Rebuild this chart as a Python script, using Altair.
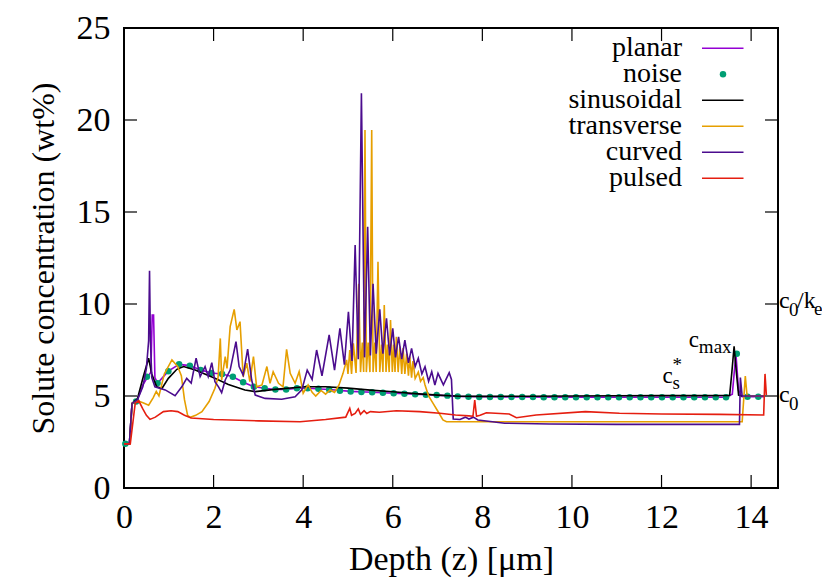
import altair as alt
import pandas as pd

FONT = "Liberation Serif"
W, H = 654, 460

x_ticks = [0, 2, 4, 6, 8, 10, 12, 14]
y_ticks = [0, 5, 10, 15, 20, 25]

names = ["planar", "noise", "sinusoidal", "transverse", "curved", "pulsed"]
colors = ["#9400D3", "#009E73", "#000000", "#E69F00", "#4B0C8E", "#E51E10"]

planar = [(0, 2.4), (0.12, 2.4), (0.18, 4.6), (0.3, 4.8), (0.42, 5.6), (0.52, 6.0), (0.6, 6.3),
          (0.63, 9.4), (0.66, 9.4), (0.69, 6.0), (0.75, 5.7), (0.99, 6.35), (1.23, 6.72), (1.47, 6.65),
          (1.71, 6.42), (1.95, 6.25), (2.19, 6.2), (2.43, 6.05), (2.66, 5.75), (2.90, 5.5), (3.14, 5.42),
          (3.38, 5.35), (3.62, 5.35), (3.86, 5.42), (4.10, 5.42), (4.58, 5.35), (5.06, 5.25), (5.54, 5.2),
          (6.02, 5.15), (6.50, 5.1), (6.98, 5.05), (7.45, 4.98), (8.5, 4.95), (10.0, 4.94), (12.0, 4.93),
          (13.44, 4.93), (13.58, 5.1), (13.66, 7.3), (13.72, 5.3), (13.8, 4.96), (14.3, 4.96)]

noise = [(0.03, 2.4), (0.27, 4.7), (0.51, 6.05), (0.75, 5.7), (0.99, 6.35), (1.23, 6.72), (1.47, 6.65),
         (1.71, 6.42), (1.95, 6.25), (2.19, 6.2), (2.43, 6.05), (2.66, 5.75), (2.90, 5.5), (3.14, 5.42),
         (3.38, 5.35), (3.62, 5.35), (3.86, 5.42), (4.10, 5.42), (4.34, 5.4), (4.58, 5.35), (4.82, 5.28),
         (5.06, 5.25), (5.30, 5.22), (5.54, 5.2), (5.78, 5.18), (6.02, 5.15), (6.26, 5.12), (6.50, 5.1),
         (6.74, 5.07), (6.98, 5.05), (7.22, 5.02), (7.45, 4.98), (7.69, 4.96), (7.93, 4.95), (8.17, 4.95),
         (8.41, 4.94), (8.65, 4.94), (8.89, 4.94), (9.13, 4.94), (9.37, 4.93), (9.61, 4.93), (9.85, 4.93),
         (10.09, 4.93), (10.33, 4.93), (10.57, 4.93), (10.81, 4.93), (11.05, 4.93), (11.29, 4.93),
         (11.53, 4.93), (11.77, 4.93), (12.01, 4.93), (12.25, 4.93), (12.49, 4.93), (12.73, 4.93),
         (12.97, 4.93), (13.21, 4.93), (13.44, 4.93), (13.68, 7.3), (13.92, 4.96), (14.16, 4.96)]

sinusoidal = [(0, 2.4), (0.12, 2.4), (0.18, 4.6), (0.3, 4.85), (0.43, 6.05), (0.55, 7.05), (0.62, 6.2),
              (0.73, 5.5), (0.85, 5.42), (0.99, 5.96), (1.18, 6.45), (1.33, 6.6), (1.59, 6.41), (2.03, 5.96),
              (2.33, 5.63), (2.7, 5.33), (2.93, 5.24), (3.37, 5.36), (4.04, 5.5), (4.5, 5.5), (5.0, 5.43),
              (5.5, 5.32), (6.0, 5.23), (6.5, 5.13), (7.0, 5.05), (7.5, 4.99), (8.0, 4.98), (9.0, 4.99),
              (10.0, 5.0), (11.0, 5.01), (12.0, 5.02), (13.0, 5.02), (13.52, 5.03), (13.57, 6.3), (13.62, 7.7),
              (13.67, 6.3), (13.72, 5.05), (13.8, 5.0)]

transverse = [(0, 2.4), (0.13, 2.4), (0.18, 4.6), (0.3, 4.75), (0.45, 4.6), (0.55, 4.5), (0.65, 4.9),
              (0.72, 5.25), (0.78, 5.0), (0.9, 6.2), (1.07, 6.96), (1.2, 6.6), (1.28, 6.1), (1.35, 4.8),
              (1.42, 3.95), (1.48, 3.84), (1.6, 3.95), (1.74, 4.15), (1.9, 4.7), (2.03, 5.42), (2.1, 6.0),
              (2.15, 8.13), (2.18, 5.87), (2.26, 7.14), (2.3, 6.5), (2.37, 8.77), (2.46, 9.71), (2.52, 8.59),
              (2.59, 9.04), (2.66, 6.05), (2.74, 6.78), (2.81, 5.78), (2.89, 7.14), (2.96, 5.5), (3.08, 5.6),
              (3.19, 6.6), (3.26, 5.69), (3.33, 6.32), (3.45, 5.69), (3.55, 5.5), (3.63, 7.54), (3.71, 6.23),
              (3.82, 5.69), (3.91, 6.32), (4.0, 5.15), (4.11, 5.6), (4.2, 5.2), (4.28, 5.0), (4.4, 5.3),
              (4.5, 5.1), (4.6, 5.33), (4.7, 5.2), (4.8, 5.6), (4.89, 6.23), (4.97, 6.96), (5.0, 6.2),
              (5.04, 7.5), (5.08, 6.2), (5.12, 7.86), (5.18, 6.25), (5.24, 11.1), (5.28, 6.3), (5.32, 7.9),
              (5.35, 6.3), (5.38, 19.46), (5.41, 6.3), (5.45, 7.9), (5.49, 6.3), (5.53, 19.46), (5.56, 6.3),
              (5.60, 7.9), (5.63, 6.3), (5.67, 12.3), (5.71, 6.3), (5.75, 7.8), (5.78, 6.3), (5.81, 9.95),
              (5.85, 6.3), (5.88, 7.8), (5.92, 6.3), (5.95, 9.13), (5.99, 6.3), (6.02, 7.8), (6.05, 6.3),
              (6.08, 8.22), (6.12, 6.3), (6.16, 7.7), (6.2, 6.2), (6.23, 7.6), (6.27, 6.2), (6.31, 7.3),
              (6.35, 6.1), (6.38, 7.14), (6.42, 6.0), (6.45, 6.9), (6.5, 5.95), (6.57, 6.3), (6.62, 5.8),
              (6.68, 6.0), (6.72, 5.6), (6.8, 5.0), (6.9, 4.6), (7.0, 4.2), (7.12, 3.7), (7.2, 3.6),
              (13.8, 3.6), (13.87, 6.08), (13.91, 5.0), (14.3, 5.0)]

curved = [(0, 2.4), (0.12, 2.4), (0.18, 4.6), (0.3, 4.8), (0.42, 5.5), (0.5, 6.5), (0.55, 8.0), (0.57, 11.8),
          (0.59, 8.0), (0.62, 6.0), (0.69, 5.5), (0.92, 5.33), (1.14, 5.02), (1.29, 5.5), (1.40, 5.96),
          (1.5, 5.7), (1.61, 7.05), (1.70, 6.05), (1.81, 6.6), (1.88, 6.05), (1.96, 6.81), (2.03, 5.78),
          (2.11, 5.5), (2.18, 5.18), (2.26, 5.87), (2.37, 6.41), (2.50, 7.95), (2.57, 6.6), (2.66, 6.14),
          (2.76, 7.55), (2.85, 5.87), (2.93, 5.05), (3.15, 4.87), (3.52, 4.82), (3.82, 4.96), (3.97, 5.33),
          (4.09, 6.41), (4.2, 5.9), (4.30, 7.5), (4.42, 6.1), (4.58, 8.32), (4.70, 6.4), (4.82, 8.68),
          (4.92, 6.7), (5.01, 9.58), (5.09, 6.9), (5.16, 13.2), (5.23, 7.0), (5.30, 21.45), (5.37, 7.1),
          (5.44, 14.2), (5.50, 7.2), (5.56, 11.1), (5.63, 7.3), (5.71, 9.71), (5.78, 7.3), (5.86, 9.22),
          (5.93, 7.2), (6.00, 8.68), (6.06, 7.1), (6.13, 8.22), (6.20, 7.0), (6.27, 8.04), (6.35, 6.8),
          (6.42, 7.59), (6.50, 6.6), (6.57, 7.05), (6.65, 6.2), (6.72, 6.59), (6.80, 5.8), (6.87, 6.32),
          (6.94, 5.6), (7.01, 6.23), (7.13, 5.6), (7.26, 6.27), (7.31, 5.9), (7.35, 3.75), (7.5, 3.72),
          (7.62, 3.85), (7.7, 3.75), (7.8, 3.85), (7.9, 3.7), (8.5, 3.52), (9.5, 3.48), (11.0, 3.46),
          (13.74, 3.46), (13.76, 6.0), (13.8, 5.0), (14.3, 5.0)]

pulsed = [(0, 2.4), (0.14, 2.4), (0.25, 4.6), (0.33, 4.74), (0.42, 4.3), (0.5, 3.95), (0.58, 3.73),
          (0.7, 3.85), (0.88, 4.15), (1.05, 4.2), (1.2, 4.15), (1.35, 3.95), (1.5, 3.8), (2.0, 3.72),
          (3.0, 3.65), (3.93, 3.6), (4.5, 3.72), (4.95, 3.85), (5.04, 4.33), (5.08, 3.95), (5.16, 4.05),
          (5.23, 4.3), (5.28, 4.0), (5.36, 4.2), (5.42, 4.05), (5.5, 4.15), (5.7, 4.12), (6.08, 4.2),
          (6.6, 4.15), (7.05, 4.06), (7.4, 3.97), (7.7, 3.92), (7.79, 3.9), (7.83, 4.78), (7.87, 3.9),
          (7.95, 3.95), (8.09, 4.09), (8.6, 4.02), (8.76, 3.82), (9.2, 3.97), (10.3, 4.15), (11.06, 4.06),
          (12.0, 4.02), (13.29, 4.0), (14.28, 3.97), (14.31, 6.2), (14.34, 5.05)]

# annotation anchors (z, c) for text labels
cmax_anchor = (12.61, 7.64)
cs_anchor = (12.02, 5.69)

col = dict(zip(names, colors))
xs = alt.Scale(domain=[0, 14.6], nice=False, zero=False)
ys = alt.Scale(domain=[0, 25], nice=False, zero=False)

x_axis = alt.Axis(values=x_ticks, ticks=False, domain=False, grid=False, labelFont=FONT,
                  labelFontSize=34, labelColor="black", labelPadding=12, labelFlush=False,
                  title="Depth (z) [μm]", titleFont=FONT, titleFontSize=34, titleFontWeight="normal",
                  titleColor="black", titlePadding=8)
y_axis = alt.Axis(values=y_ticks, ticks=False, domain=False, grid=False, labelFont=FONT,
                  labelFontSize=34, labelColor="black", labelPadding=14, labelFlush=False,
                  title="Solute concentration (wt%)", titleFont=FONT, titleFontSize=32,
                  titleFontWeight="normal", titleColor="black", titlePadding=16)


def X(field):
    return alt.X(field, scale=xs, axis=x_axis)


def Y(field):
    return alt.Y(field, scale=ys, axis=y_axis)


def pts_df(name, pts):
    return pd.DataFrame({"series": name, "z": [p[0] for p in pts], "c": [p[1] for p in pts],
                         "i": list(range(len(pts)))})


def line_layer(name, pts):
    return alt.Chart(pts_df(name, pts)).mark_line(color=col[name], strokeWidth=1.6).encode(
        x=X("z:Q"), y=Y("c:Q"), order="i:Q")


layers = [line_layer("planar", planar)]
layers.append(alt.Chart(pts_df("noise", noise)).mark_circle(size=42, color=col["noise"], opacity=1).encode(
    x=X("z:Q"), y=Y("c:Q")))
layers.append(line_layer("sinusoidal", sinusoidal))
layers.append(line_layer("transverse", transverse))
layers.append(line_layer("curved", curved))
layers.append(line_layer("pulsed", pulsed))

# inward ticks (gnuplot style)
xt_df = pd.DataFrame({"z": x_ticks})
yt_df = pd.DataFrame({"c": y_ticks})
TL = 13
for (y1, y2) in [(H, H - TL), (0, TL)]:
    layers.append(alt.Chart(xt_df).mark_rule(color="black", strokeWidth=1.2).encode(
        x=X("z:Q"), y=alt.value(y1), y2=alt.value(y2)))
for (x1, x2) in [(0, TL), (W - TL, W)]:
    layers.append(alt.Chart(yt_df).mark_rule(color="black", strokeWidth=1.2).encode(
        y=Y("c:Q"), x=alt.value(x1), x2=alt.value(x2)))

# legend (gnuplot style: text right-aligned, sample on the right)
leg = pd.DataFrame({"name": names, "idx": list(range(len(names)))})
leg_base = alt.Chart(leg).transform_calculate(c=f"25 - (20.3 + 26*datum.idx)*25/{H}")
cscale = alt.Scale(domain=names, range=colors)
layers.append(leg_base.mark_text(align="right", baseline="alphabetic", dy=8, font=FONT, fontSize=28,
                                 color="black").encode(
    x=alt.value(558), y=Y("c:Q"), text="name:N"))
layers.append(leg_base.transform_filter("datum.idx != 1").mark_rule(strokeWidth=1.6).encode(
    x=alt.value(578), x2=alt.value(619.5), y=Y("c:Q"),
    color=alt.Color("name:N", scale=cscale, legend=None)))
layers.append(leg_base.transform_filter("datum.idx == 1").mark_circle(size=42, opacity=1).encode(
    x=alt.value(599), y=Y("c:Q"),
    color=alt.Color("name:N", scale=cscale, legend=None)))


# right-side axis labels c0 and c0/ke
def rlabel(v, txt, xpx, dy, fs):
    return alt.Chart(pd.DataFrame({"c": [v], "t": [txt]})).mark_text(
        align="left", baseline="alphabetic", dy=dy, font=FONT, fontSize=fs, color="black").encode(
        x=alt.value(xpx), y=Y("c:Q"), text="t:N")


layers += [rlabel(5, "c", W + 1, 6, 24), rlabel(5, "0", W + 11, 14, 19),
           rlabel(10, "c", W + 1, 4, 24), rlabel(10, "0", W + 11, 12, 19),
           rlabel(10, "/k", W + 19, 4, 24), rlabel(10, "e", W + 36, 11, 19)]


# in-plot annotations
def alabel(anchor, txt, dx, dy, fs):
    return alt.Chart(pd.DataFrame({"z": [anchor[0]], "c": [anchor[1]], "t": [txt]})).mark_text(
        align="left", baseline="alphabetic", dx=dx, dy=dy, font=FONT, fontSize=fs, color="black").encode(
        x=X("z:Q"), y=Y("c:Q"), text="t:N")


layers += [alabel(cmax_anchor, "c", 0, 0, 23), alabel(cmax_anchor, "max", 10, 6, 19),
           alabel(cs_anchor, "c", 0, 0, 23), alabel(cs_anchor, "s", 10, 6, 19),
           alabel(cs_anchor, "*", 10, -12, 19)]

chart = alt.layer(*layers).properties(
    width=W, height=H,
    autosize=alt.AutoSizeParams(type="none"),
    padding={"left": 116, "top": 20, "right": 44, "bottom": 93},
).configure_view(stroke="black", strokeWidth=2)

chart.save("out.html", embed_options={"renderer": "svg", "actions": False})
